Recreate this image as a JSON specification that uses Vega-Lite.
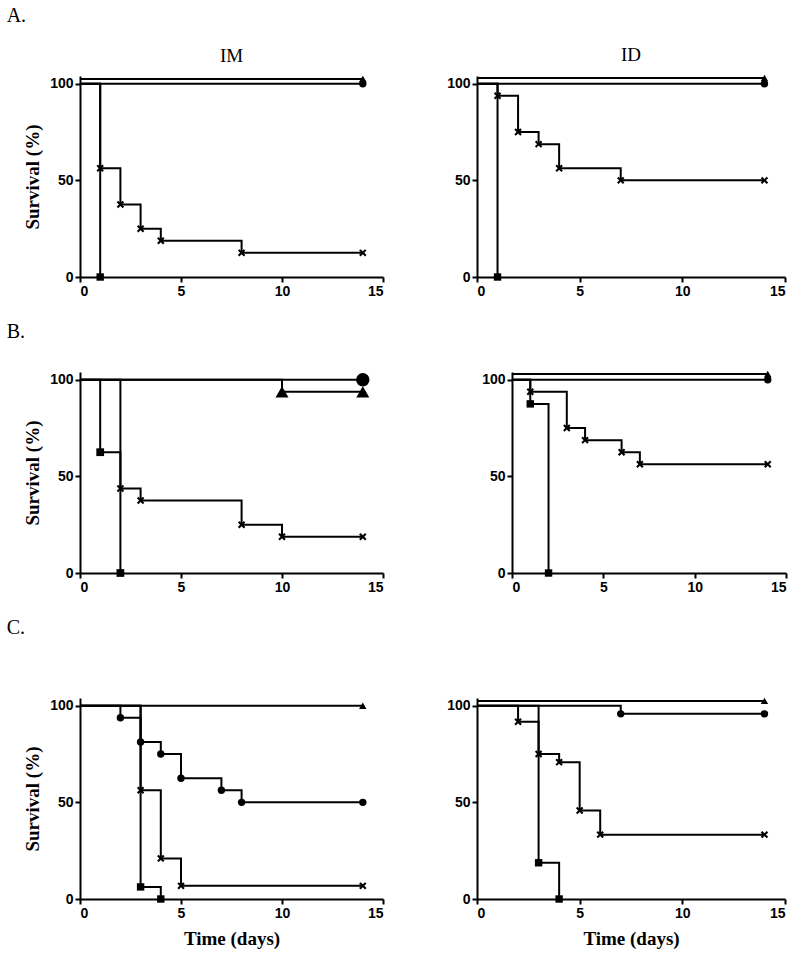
{
  "$schema": "https://vega.github.io/schema/vega-lite/v6.json",
  "padding": {"left": 6, "top": 5, "right": 5, "bottom": 5},
  "background": "white",
  "data": {"values": [
    {"p":"A-IM","s":"triangle","t":0,"v":102.5},{"p":"A-IM","s":"triangle","t":14,"v":102.5},
    {"p":"A-IM","s":"circle","t":0,"v":100},{"p":"A-IM","s":"circle","t":14,"v":100},
    {"p":"A-IM","s":"square","t":0,"v":100},{"p":"A-IM","s":"square","t":1,"v":0},
    {"p":"A-IM","s":"star","t":0,"v":100},{"p":"A-IM","s":"star","t":1,"v":56.25},{"p":"A-IM","s":"star","t":2,"v":37.5},{"p":"A-IM","s":"star","t":3,"v":25},{"p":"A-IM","s":"star","t":4,"v":18.75},{"p":"A-IM","s":"star","t":8,"v":12.5},{"p":"A-IM","s":"star","t":14,"v":12.5},

    {"p":"A-ID","s":"triangle","t":0,"v":103},{"p":"A-ID","s":"triangle","t":14,"v":103},
    {"p":"A-ID","s":"circle","t":0,"v":100},{"p":"A-ID","s":"circle","t":14,"v":100},
    {"p":"A-ID","s":"square","t":0,"v":100},{"p":"A-ID","s":"square","t":1,"v":0},
    {"p":"A-ID","s":"star","t":0,"v":100},{"p":"A-ID","s":"star","t":1,"v":93.75},{"p":"A-ID","s":"star","t":2,"v":75},{"p":"A-ID","s":"star","t":3,"v":68.75},{"p":"A-ID","s":"star","t":4,"v":56.25},{"p":"A-ID","s":"star","t":7,"v":50},{"p":"A-ID","s":"star","t":14,"v":50},

    {"p":"B-IM","s":"circle","t":0,"v":100},{"p":"B-IM","s":"circle","t":14,"v":100},
    {"p":"B-IM","s":"triangle","t":0,"v":100},{"p":"B-IM","s":"triangle","t":10,"v":93.75},{"p":"B-IM","s":"triangle","t":14,"v":93.75},
    {"p":"B-IM","s":"square","t":0,"v":100},{"p":"B-IM","s":"square","t":1,"v":62.5},{"p":"B-IM","s":"square","t":2,"v":0},
    {"p":"B-IM","s":"star","t":0,"v":100},{"p":"B-IM","s":"star","t":2,"v":43.75},{"p":"B-IM","s":"star","t":3,"v":37.5},{"p":"B-IM","s":"star","t":8,"v":25},{"p":"B-IM","s":"star","t":10,"v":18.75},{"p":"B-IM","s":"star","t":14,"v":18.75},

    {"p":"B-ID","s":"triangle","t":0,"v":103},{"p":"B-ID","s":"triangle","t":14,"v":103},
    {"p":"B-ID","s":"circle","t":0,"v":100},{"p":"B-ID","s":"circle","t":14,"v":100},
    {"p":"B-ID","s":"square","t":0,"v":100},{"p":"B-ID","s":"square","t":1,"v":87.5},{"p":"B-ID","s":"square","t":2,"v":0},
    {"p":"B-ID","s":"star","t":0,"v":100},{"p":"B-ID","s":"star","t":1,"v":93.75},{"p":"B-ID","s":"star","t":3,"v":75},{"p":"B-ID","s":"star","t":4,"v":68.75},{"p":"B-ID","s":"star","t":6,"v":62.5},{"p":"B-ID","s":"star","t":7,"v":56.25},{"p":"B-ID","s":"star","t":14,"v":56.25},

    {"p":"C-IM","s":"triangle","t":0,"v":100},{"p":"C-IM","s":"triangle","t":14,"v":100},
    {"p":"C-IM","s":"circle","t":0,"v":100},{"p":"C-IM","s":"circle","t":2,"v":93.75},{"p":"C-IM","s":"circle","t":3,"v":81.25},{"p":"C-IM","s":"circle","t":4,"v":75},{"p":"C-IM","s":"circle","t":5,"v":62.5},{"p":"C-IM","s":"circle","t":7,"v":56.25},{"p":"C-IM","s":"circle","t":8,"v":50},{"p":"C-IM","s":"circle","t":14,"v":50},
    {"p":"C-IM","s":"star","t":0,"v":100},{"p":"C-IM","s":"star","t":3,"v":56.25},{"p":"C-IM","s":"star","t":4,"v":21},{"p":"C-IM","s":"star","t":5,"v":6.8},{"p":"C-IM","s":"star","t":14,"v":6.8},
    {"p":"C-IM","s":"square","t":0,"v":100},{"p":"C-IM","s":"square","t":3,"v":6.25},{"p":"C-IM","s":"square","t":4,"v":0},

    {"p":"C-ID","s":"triangle","t":0,"v":102.5},{"p":"C-ID","s":"triangle","t":14,"v":102.5},
    {"p":"C-ID","s":"circle","t":0,"v":100},{"p":"C-ID","s":"circle","t":7,"v":95.8},{"p":"C-ID","s":"circle","t":14,"v":95.8},
    {"p":"C-ID","s":"star","t":0,"v":100},{"p":"C-ID","s":"star","t":2,"v":91.7},{"p":"C-ID","s":"star","t":3,"v":75},{"p":"C-ID","s":"star","t":4,"v":70.8},{"p":"C-ID","s":"star","t":5,"v":45.8},{"p":"C-ID","s":"star","t":6,"v":33.3},{"p":"C-ID","s":"star","t":14,"v":33.3},
    {"p":"C-ID","s":"square","t":0,"v":100},{"p":"C-ID","s":"square","t":3,"v":18.75},{"p":"C-ID","s":"square","t":4,"v":0}
  ]},
  "spacing": 23,
  "vconcat": [
    {
      "title": {"text": "A.", "anchor": "start", "offset": 20, "dx": -17, "fontSize": 20},
      "spacing": 62,
      "hconcat": [
        {
          "width": 303, "height": 201,
          "title": {"text": "IM", "offset": 9, "fontSize": 19},
          "transform": [{"filter": "datum.p === 'A-IM'"}],
          "encoding": {
            "x": {"field": "t", "type": "quantitative", "scale": {"domain": [0, 15], "nice": false}, "axis": {"values": [0, 5, 10, 15], "title": null}},
            "y": {"field": "v", "type": "quantitative", "scale": {"domain": [0, 104], "nice": false}, "axis": {"values": [0, 50, 100], "title": "Survival (%)"}}
          },
          "layer": [
            {"mark": {"type": "line", "interpolate": "step-after", "color": "black", "strokeWidth": 2}, "encoding": {"detail": {"field": "s"}}},
            {"transform": [{"filter": "datum.t > 0"}], "mark": {"type": "point", "filled": true, "color": "black", "opacity": 1, "size": 55},
             "encoding": {"shape": {"field": "s", "scale": {"domain": ["circle", "square", "triangle", "star"], "range": ["circle", "square", "triangle-up", "M-1,-0.6L-0.6,-1L0,-0.4L0.6,-1L1,-0.6L0.4,0L1,0.6L0.6,1L0,0.4L-0.6,1L-1,0.6L-0.4,0Z"]}, "legend": null}}}
          ]
        },
        {
          "width": 308, "height": 201,
          "title": {"text": "ID", "offset": 9, "fontSize": 19},
          "transform": [{"filter": "datum.p === 'A-ID'"}],
          "encoding": {
            "x": {"field": "t", "type": "quantitative", "scale": {"domain": [0, 15], "nice": false}, "axis": {"values": [0, 5, 10, 15], "title": null}},
            "y": {"field": "v", "type": "quantitative", "scale": {"domain": [0, 104], "nice": false}, "axis": {"values": [0, 50, 100], "title": null}}
          },
          "layer": [
            {"mark": {"type": "line", "interpolate": "step-after", "color": "black", "strokeWidth": 2}, "encoding": {"detail": {"field": "s"}}},
            {"transform": [{"filter": "datum.t > 0"}], "mark": {"type": "point", "filled": true, "color": "black", "opacity": 1, "size": 55},
             "encoding": {"shape": {"field": "s", "scale": {"domain": ["circle", "square", "triangle", "star"], "range": ["circle", "square", "triangle-up", "M-1,-0.6L-0.6,-1L0,-0.4L0.6,-1L1,-0.6L0.4,0L1,0.6L0.6,1L0,0.4L-0.6,1L-1,0.6L-0.4,0Z"]}, "legend": null}}}
          ]
        }
      ]
    },
    {
      "title": {"text": "B.", "anchor": "start", "offset": 28, "dx": -17, "fontSize": 20},
      "spacing": 97,
      "hconcat": [
        {
          "width": 303, "height": 201,
          "transform": [{"filter": "datum.p === 'B-IM'"}],
          "encoding": {
            "x": {"field": "t", "type": "quantitative", "scale": {"domain": [0, 15], "nice": false}, "axis": {"values": [0, 5, 10, 15], "title": null}},
            "y": {"field": "v", "type": "quantitative", "scale": {"domain": [0, 104], "nice": false}, "axis": {"values": [0, 50, 100], "title": "Survival (%)"}}
          },
          "layer": [
            {"mark": {"type": "line", "interpolate": "step-after", "color": "black", "strokeWidth": 2}, "encoding": {"detail": {"field": "s"}}},
            {"transform": [{"filter": "datum.t > 0"}], "mark": {"type": "point", "filled": true, "color": "black", "opacity": 1},
             "encoding": {
               "shape": {"field": "s", "scale": {"domain": ["circle", "square", "triangle", "star"], "range": ["circle", "square", "triangle-up", "M-1,-0.6L-0.6,-1L0,-0.4L0.6,-1L1,-0.6L0.4,0L1,0.6L0.6,1L0,0.4L-0.6,1L-1,0.6L-0.4,0Z"]}, "legend": null},
               "size": {"field": "s", "type": "nominal", "scale": {"type": "ordinal", "domain": ["circle", "square", "triangle", "star"], "range": [180, 60, 170, 55]}, "legend": null}
             }}
          ]
        },
        {
          "width": 274, "height": 201,
          "transform": [{"filter": "datum.p === 'B-ID'"}],
          "encoding": {
            "x": {"field": "t", "type": "quantitative", "scale": {"domain": [0, 15], "nice": false}, "axis": {"values": [0, 5, 10, 15], "title": null}},
            "y": {"field": "v", "type": "quantitative", "scale": {"domain": [0, 104], "nice": false}, "axis": {"values": [0, 50, 100], "title": null}}
          },
          "layer": [
            {"mark": {"type": "line", "interpolate": "step-after", "color": "black", "strokeWidth": 2}, "encoding": {"detail": {"field": "s"}}},
            {"transform": [{"filter": "datum.t > 0"}], "mark": {"type": "point", "filled": true, "color": "black", "opacity": 1, "size": 55},
             "encoding": {"shape": {"field": "s", "scale": {"domain": ["circle", "square", "triangle", "star"], "range": ["circle", "square", "triangle-up", "M-1,-0.6L-0.6,-1L0,-0.4L0.6,-1L1,-0.6L0.4,0L1,0.6L0.6,1L0,0.4L-0.6,1L-1,0.6L-0.4,0Z"]}, "legend": null}}}
          ]
        }
      ]
    },
    {
      "title": {"text": "C.", "anchor": "start", "offset": 59, "dx": -17, "fontSize": 20},
      "spacing": 62,
      "hconcat": [
        {
          "width": 303, "height": 201,
          "transform": [{"filter": "datum.p === 'C-IM'"}],
          "encoding": {
            "x": {"field": "t", "type": "quantitative", "scale": {"domain": [0, 15], "nice": false}, "axis": {"values": [0, 5, 10, 15], "title": "Time (days)", "titlePadding": 9}},
            "y": {"field": "v", "type": "quantitative", "scale": {"domain": [0, 104], "nice": false}, "axis": {"values": [0, 50, 100], "title": "Survival (%)"}}
          },
          "layer": [
            {"mark": {"type": "line", "interpolate": "step-after", "color": "black", "strokeWidth": 2}, "encoding": {"detail": {"field": "s"}}},
            {"transform": [{"filter": "datum.t > 0"}], "mark": {"type": "point", "filled": true, "color": "black", "opacity": 1, "size": 55},
             "encoding": {"shape": {"field": "s", "scale": {"domain": ["circle", "square", "triangle", "star"], "range": ["circle", "square", "triangle-up", "M-1,-0.6L-0.6,-1L0,-0.4L0.6,-1L1,-0.6L0.4,0L1,0.6L0.6,1L0,0.4L-0.6,1L-1,0.6L-0.4,0Z"]}, "legend": null}}}
          ]
        },
        {
          "width": 308, "height": 201,
          "transform": [{"filter": "datum.p === 'C-ID'"}],
          "encoding": {
            "x": {"field": "t", "type": "quantitative", "scale": {"domain": [0, 15], "nice": false}, "axis": {"values": [0, 5, 10, 15], "title": "Time (days)", "titlePadding": 9}},
            "y": {"field": "v", "type": "quantitative", "scale": {"domain": [0, 104], "nice": false}, "axis": {"values": [0, 50, 100], "title": null}}
          },
          "layer": [
            {"mark": {"type": "line", "interpolate": "step-after", "color": "black", "strokeWidth": 2}, "encoding": {"detail": {"field": "s"}}},
            {"transform": [{"filter": "datum.t > 0"}], "mark": {"type": "point", "filled": true, "color": "black", "opacity": 1, "size": 55},
             "encoding": {"shape": {"field": "s", "scale": {"domain": ["circle", "square", "triangle", "star"], "range": ["circle", "square", "triangle-up", "M-1,-0.6L-0.6,-1L0,-0.4L0.6,-1L1,-0.6L0.4,0L1,0.6L0.6,1L0,0.4L-0.6,1L-1,0.6L-0.4,0Z"]}, "legend": null}}}
          ]
        }
      ]
    }
  ],
  "config": {
    "view": {"stroke": null},
    "axis": {
      "grid": false,
      "domainColor": "black", "domainWidth": 2,
      "tickColor": "black", "tickWidth": 2, "tickSize": 5,
      "labelFont": "Liberation Sans", "labelFontWeight": "bold", "labelFontSize": 14, "labelColor": "black", "labelPadding": 2,
      "titleFont": "Liberation Serif", "titleFontWeight": "bold", "titleFontSize": 19, "titleColor": "black", "titlePadding": 7
    },
    "title": {"font": "Liberation Serif", "fontWeight": "normal", "fontSize": 18, "color": "black"}
  }
}
